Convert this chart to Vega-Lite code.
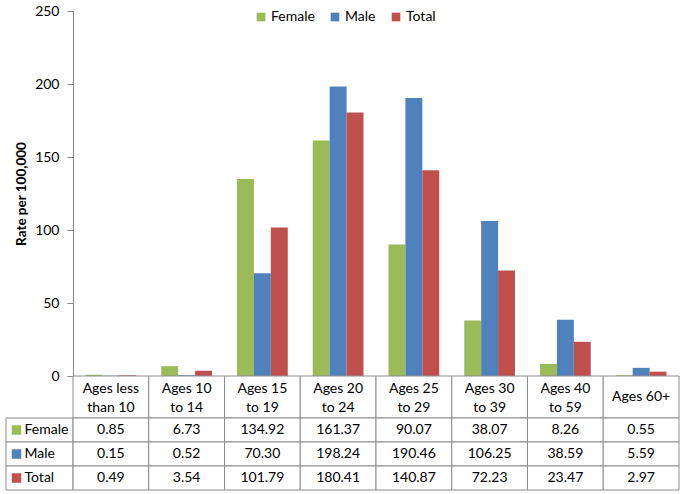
{
  "$schema": "https://vega.github.io/schema/vega-lite/v6.json",
  "padding": {"left": 5, "top": 4, "right": 3, "bottom": 2},
  "config": {
    "font": "Lato",
    "view": {"stroke": null},
    "text": {"color": "#000000"},
    "axis": {"labelColor": "#000000", "titleColor": "#000000"},
    "legend": {"labelColor": "#000000"}
  },
  "datasets": {
    "rates": [
      {"age": "lt10", "label": "Ages less\nthan 10", "sex": "Female", "rate": 0.85},
      {"age": "lt10", "label": "Ages less\nthan 10", "sex": "Male", "rate": 0.15},
      {"age": "lt10", "label": "Ages less\nthan 10", "sex": "Total", "rate": 0.49},
      {"age": "10-14", "label": "Ages 10\nto 14", "sex": "Female", "rate": 6.73},
      {"age": "10-14", "label": "Ages 10\nto 14", "sex": "Male", "rate": 0.52},
      {"age": "10-14", "label": "Ages 10\nto 14", "sex": "Total", "rate": 3.54},
      {"age": "15-19", "label": "Ages 15\nto 19", "sex": "Female", "rate": 134.92},
      {"age": "15-19", "label": "Ages 15\nto 19", "sex": "Male", "rate": 70.30},
      {"age": "15-19", "label": "Ages 15\nto 19", "sex": "Total", "rate": 101.79},
      {"age": "20-24", "label": "Ages 20\nto 24", "sex": "Female", "rate": 161.37},
      {"age": "20-24", "label": "Ages 20\nto 24", "sex": "Male", "rate": 198.24},
      {"age": "20-24", "label": "Ages 20\nto 24", "sex": "Total", "rate": 180.41},
      {"age": "25-29", "label": "Ages 25\nto 29", "sex": "Female", "rate": 90.07},
      {"age": "25-29", "label": "Ages 25\nto 29", "sex": "Male", "rate": 190.46},
      {"age": "25-29", "label": "Ages 25\nto 29", "sex": "Total", "rate": 140.87},
      {"age": "30-39", "label": "Ages 30\nto 39", "sex": "Female", "rate": 38.07},
      {"age": "30-39", "label": "Ages 30\nto 39", "sex": "Male", "rate": 106.25},
      {"age": "30-39", "label": "Ages 30\nto 39", "sex": "Total", "rate": 72.23},
      {"age": "40-59", "label": "Ages 40\nto 59", "sex": "Female", "rate": 8.26},
      {"age": "40-59", "label": "Ages 40\nto 59", "sex": "Male", "rate": 38.59},
      {"age": "40-59", "label": "Ages 40\nto 59", "sex": "Total", "rate": 23.47},
      {"age": "60+", "label": "Ages 60+", "sex": "Female", "rate": 0.55},
      {"age": "60+", "label": "Ages 60+", "sex": "Male", "rate": 5.59},
      {"age": "60+", "label": "Ages 60+", "sex": "Total", "rate": 2.97}
    ]
  },
  "columns": 2,
  "spacing": 0,
  "bounds": "flush",
  "concat": [
    {
      "width": 67,
      "height": 365,
      "data": {"values": []},
      "mark": "point"
    },
    {
      "width": 606,
      "height": 365,
      "data": {"name": "rates"},
      "mark": {"type": "bar"},
      "encoding": {
        "x": {
          "field": "age",
          "type": "nominal",
          "sort": ["lt10", "10-14", "15-19", "20-24", "25-29", "30-39", "40-59", "60+"],
          "scale": {"paddingInner": 0.33, "paddingOuter": 0.165},
          "axis": {"labels": false, "ticks": false, "title": null, "domainColor": "#868686"}
        },
        "xOffset": {"field": "sex", "type": "nominal", "sort": ["Female", "Male", "Total"]},
        "y": {
          "field": "rate",
          "type": "quantitative",
          "scale": {"domain": [0, 250]},
          "axis": {
            "values": [0, 50, 100, 150, 200, 250],
            "grid": false,
            "title": "Rate per 100,000",
            "titleFontWeight": "bold",
            "titleFontSize": 13.5,
            "titlePadding": 6,
            "labelFontSize": 14,
            "tickSize": 6,
            "labelPadding": 8,
            "domainColor": "#868686",
            "tickColor": "#868686"
          }
        },
        "color": {
          "field": "sex",
          "type": "nominal",
          "scale": {"domain": ["Female", "Male", "Total"], "range": ["#9BBB59", "#4F81BD", "#C0504D"]},
          "legend": {
            "orient": "none",
            "legendX": 248,
            "legendY": -1,
            "direction": "horizontal",
            "title": null,
            "symbolType": "square",
            "symbolSize": 75,
            "symbolStrokeWidth": 0,
            "labelFontSize": 14,
            "labelOffset": 3,
            "columnPadding": 13
          }
        }
      }
    },
    {
      "width": 67,
      "height": 42,
      "data": {"values": []},
      "mark": "point"
    },
    {
      "width": 606,
      "height": 42,
      "data": {"name": "rates"},
      "transform": [{"filter": "datum.sex === 'Female'"}],
      "encoding": {
        "x": {
          "field": "age",
          "type": "nominal",
          "sort": ["lt10", "10-14", "15-19", "20-24", "25-29", "30-39", "40-59", "60+"],
          "scale": {"paddingInner": 0, "paddingOuter": 0},
          "axis": null
        }
      },
      "layer": [
        {"mark": {"type": "rect", "fill": "white", "stroke": "#8c8c8c", "strokeWidth": 1}},
        {
          "transform": [{"filter": "datum.age !== '60+'"}],
          "mark": {"type": "text", "lineBreak": "\n", "fontSize": 14, "lineHeight": 19, "dy": -8},
          "encoding": {"text": {"field": "label"}}
        },
        {
          "transform": [{"filter": "datum.age === '60+'"}],
          "mark": {"type": "text", "fontSize": 14},
          "encoding": {"text": {"field": "label"}}
        }
      ]
    },
    {
      "width": 67,
      "height": 72,
      "data": {"name": "rates"},
      "transform": [{"filter": "datum.age === 'lt10'"}],
      "encoding": {
        "y": {
          "field": "sex",
          "type": "nominal",
          "sort": ["Female", "Male", "Total"],
          "scale": {"paddingInner": 0, "paddingOuter": 0},
          "axis": null
        }
      },
      "layer": [
        {"mark": {"type": "rect", "fill": "white", "stroke": "#8c8c8c", "strokeWidth": 1}},
        {
          "mark": {"type": "point", "shape": "square", "filled": true, "size": 90, "opacity": 1, "xOffset": -23},
          "encoding": {
            "color": {
              "field": "sex",
              "type": "nominal",
              "scale": {"domain": ["Female", "Male", "Total"], "range": ["#9BBB59", "#4F81BD", "#C0504D"]},
              "legend": null
            }
          }
        },
        {"mark": {"type": "text", "align": "left", "dx": -15, "fontSize": 14}, "encoding": {"text": {"field": "sex"}}}
      ]
    },
    {
      "width": 606,
      "height": 72,
      "data": {"name": "rates"},
      "encoding": {
        "x": {
          "field": "age",
          "type": "nominal",
          "sort": ["lt10", "10-14", "15-19", "20-24", "25-29", "30-39", "40-59", "60+"],
          "scale": {"paddingInner": 0, "paddingOuter": 0},
          "axis": null
        },
        "y": {
          "field": "sex",
          "type": "nominal",
          "sort": ["Female", "Male", "Total"],
          "scale": {"paddingInner": 0, "paddingOuter": 0},
          "axis": null
        }
      },
      "layer": [
        {"mark": {"type": "rect", "fill": "white", "stroke": "#8c8c8c", "strokeWidth": 1}},
        {"mark": {"type": "text", "fontSize": 14}, "encoding": {"text": {"field": "rate", "type": "quantitative", "format": ".2f"}}}
      ]
    }
  ]
}
